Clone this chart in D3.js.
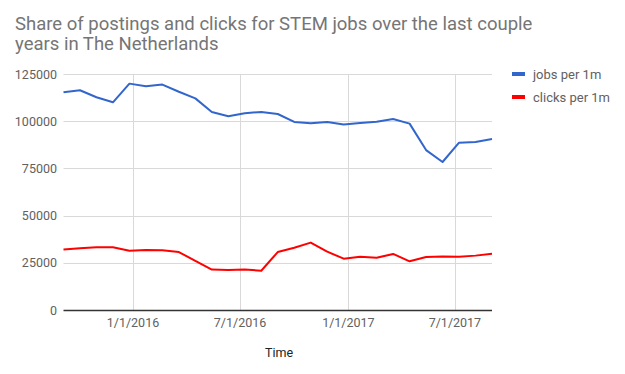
<!DOCTYPE html>
<html>
<head>
<meta charset="utf-8">
<script src="https://cdn.jsdelivr.net/npm/d3@7"></script>
<style>
  body { margin: 0; background: #fff; }
  svg { font-family: Roboto, "Noto Sans", sans-serif; }
</style>
</head>
<body>
<div id="chart"></div>
<script>
// 4-weekly data points
const dates = [
    "2015-09-05", "2015-10-03", "2015-10-31", "2015-11-28", "2015-12-26",
    "2016-01-23", "2016-02-20", "2016-03-19", "2016-04-16", "2016-05-14",
    "2016-06-11", "2016-07-09", "2016-08-06", "2016-09-03", "2016-10-01",
    "2016-10-29", "2016-11-26", "2016-12-24", "2017-01-21", "2017-02-18",
    "2017-03-18", "2017-04-15", "2017-05-13", "2017-06-10", "2017-07-08",
    "2017-08-05", "2017-09-02"
];
const jobs = [
    115300, 116400, 112700, 110000, 119900, 118500, 119400, 115600, 112100, 104900,
    102600, 104200, 104900, 103800, 99600, 98900, 99600, 98200, 99000, 99700,
    101200, 98700, 84700, 78400, 88600, 89000, 90600
];
const clicks = [
    32100, 32700, 33200, 33200, 31400, 31800, 31600, 30700, 26000, 21400,
    21200, 21400, 20800, 30700, 33000, 35700, 30900, 27200, 28200, 27700,
    29700, 25800, 28100, 28400, 28200, 28800, 29800
];
const yTicks = [0, 25000, 50000, 75000, 100000, 125000];
const xTicks = ["2016-01-01", "2016-07-01", "2017-01-01", "2017-07-01"];
const seriesNames = ["jobs per 1m", "clicks per 1m"];
const seriesColors = ["#3366cc", "#ff0000"];

const width = 625;
const height = 374;
const margin = { top: 74, right: 133, bottom: 64, left: 63.5 };

const parse = d3.timeParse("%Y-%m-%d");
const fmt = d3.timeFormat("%-m/%-d/%Y");

const svg = d3.select("#chart")
    .append("svg")
    .attr("width", width)
    .attr("height", height);

const x = d3.scaleTime()
    .domain([parse(dates[0]), parse(dates[dates.length - 1])])
    .range([margin.left, width - margin.right]);

const y = d3.scaleLinear()
    .domain([0, 125000])
    .range([height - margin.bottom, margin.top]);

// title
const title = svg.append("text")
    .attr("x", 15)
    .attr("y", 30)
    .attr("fill", "#757575")
    .style("font-size", "18.5px");
title.append("tspan").attr("x", 15).attr("y", 30)
    .text("Share of postings and clicks for STEM jobs over the last couple");
title.append("tspan").attr("x", 15).attr("y", 50)
    .text("years in The Netherlands");

// horizontal grid
svg.append("g")
    .selectAll("line")
    .data(yTicks.filter(d => d > 0))
    .enter().append("line")
    .attr("x1", margin.left)
    .attr("x2", width - margin.right)
    .attr("y1", d => Math.round(y(d)) + 0.5)
    .attr("y2", d => Math.round(y(d)) + 0.5)
    .attr("stroke", "#d9d9d9");

// vertical grid
svg.append("g")
    .selectAll("line")
    .data(xTicks)
    .enter().append("line")
    .attr("x1", d => Math.round(x(parse(d))) + 0.5)
    .attr("x2", d => Math.round(x(parse(d))) + 0.5)
    .attr("y1", margin.top)
    .attr("y2", height - margin.bottom)
    .attr("stroke", "#d9d9d9");

// y labels
svg.append("g")
    .selectAll("text")
    .data(yTicks)
    .enter().append("text")
    .attr("x", 57)
    .attr("y", d => y(d) + 4.5)
    .attr("text-anchor", "end")
    .attr("fill", "#616161")
    .style("font-size", "12.5px")
    .text(d => d);

// x labels
svg.append("g")
    .selectAll("text")
    .data(xTicks)
    .enter().append("text")
    .attr("x", d => x(parse(d)))
    .attr("y", 327)
    .attr("text-anchor", "middle")
    .attr("fill", "#616161")
    .style("font-size", "12.5px")
    .text(d => fmt(parse(d)));

// axis title
svg.append("text")
    .attr("x", 279)
    .attr("y", 357)
    .attr("text-anchor", "middle")
    .attr("fill", "#222")
    .style("font-size", "12.5px")
    .text("Time");

// lines
const line = d3.line()
    .x((d, i) => x(parse(dates[i])))
    .y(d => y(d));

[jobs, clicks].forEach((vals, k) => {
    svg.append("path")
        .datum(vals)
        .attr("d", line)
        .attr("fill", "none")
        .attr("stroke", seriesColors[k])
        .attr("stroke-width", 2)
        .attr("stroke-linejoin", "round");
});

// baseline
svg.append("line")
    .attr("x1", margin.left)
    .attr("x2", width - margin.right)
    .attr("y1", y(0) + 0.5)
    .attr("y2", y(0) + 0.5)
    .attr("stroke", "#333")
    .attr("stroke-width", 1.5);

// legend
const legend = svg.append("g")
    .selectAll("g")
    .data(seriesNames)
    .enter().append("g")
    .attr("transform", (d, i) => `translate(512,${74 + i * 23})`);

legend.append("rect")
    .attr("x", 0)
    .attr("y", -2)
    .attr("width", 13)
    .attr("height", 4)
    .attr("fill", (d, i) => seriesColors[i]);

legend.append("text")
    .attr("x", 21)
    .attr("y", 4.5)
    .attr("fill", "#616161")
    .style("font-size", "13px")
    .text(d => d);
</script>
</body>
</html>
